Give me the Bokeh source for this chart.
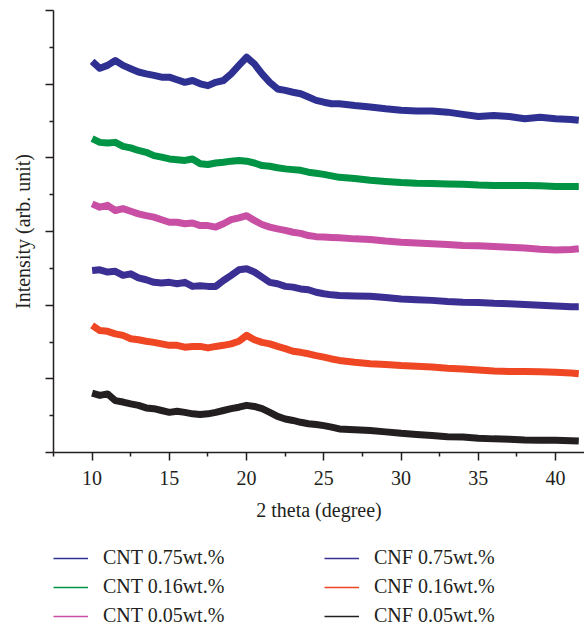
from bokeh.plotting import figure
from bokeh.layouts import column
from bokeh.models import Legend, LegendItem, FixedTicker, Range1d, ColumnDataSource
from bokeh.embed import file_html
from bokeh.resources import INLINE

# 2-theta positions (degree)
two_theta = [10, 10.5, 11, 11.5, 12, 12.5, 13, 13.5, 14, 14.5, 15, 15.5, 16, 16.5, 17, 17.5,
             18, 18.5, 19, 19.5, 20, 20.5, 21, 21.5, 22, 22.5, 23, 23.5, 24, 24.5, 25, 25.5,
             26, 27, 28, 29, 30, 31, 32, 33, 34, 35, 36, 37, 38, 39, 40, 41, 41.5]

# intensities (arb. unit, stacked offsets as in the figure)
cnt_075 = [10.62, 10.43, 10.51, 10.64, 10.51, 10.42, 10.33, 10.28, 10.24, 10.19, 10.19, 10.12,
           10.05, 10.10, 10.01, 9.96, 10.05, 10.10, 10.28, 10.51, 10.73, 10.55, 10.28, 10.05,
           9.87, 9.83, 9.78, 9.74, 9.65, 9.56, 9.51, 9.47, 9.47,
           9.42, 9.38, 9.33, 9.29, 9.27, 9.27, 9.24, 9.18, 9.12, 9.15, 9.12, 9.06, 9.10, 9.06,
           9.04, 9.02]
cnt_016 = [8.52, 8.42, 8.40, 8.42, 8.31, 8.27, 8.20, 8.15, 8.06, 8.02, 7.97, 7.95, 7.93, 7.97,
           7.84, 7.82, 7.86, 7.88, 7.91, 7.93, 7.91, 7.86, 7.79, 7.77, 7.73, 7.70, 7.68, 7.66,
           7.61, 7.58, 7.55, 7.51, 7.47,
           7.44, 7.39, 7.36, 7.33, 7.31, 7.30, 7.29, 7.28, 7.26, 7.25, 7.25, 7.25, 7.24, 7.22,
           7.22, 7.22]
cnt_005 = [6.75, 6.66, 6.71, 6.57, 6.62, 6.55, 6.48, 6.43, 6.39, 6.32, 6.25, 6.25, 6.21, 6.23,
           6.16, 6.16, 6.12, 6.21, 6.32, 6.37, 6.43, 6.30, 6.19, 6.12, 6.07, 6.03, 5.98, 5.95,
           5.89, 5.86, 5.85, 5.84, 5.83,
           5.80, 5.78, 5.74, 5.71, 5.69, 5.67, 5.65, 5.62, 5.61, 5.59, 5.57, 5.55, 5.52, 5.50,
           5.51, 5.53]
cnf_075 = [4.94, 4.96, 4.90, 4.92, 4.81, 4.85, 4.74, 4.69, 4.62, 4.60, 4.62, 4.58, 4.62, 4.51,
           4.53, 4.51, 4.51, 4.67, 4.81, 4.96, 4.99, 4.90, 4.76, 4.62, 4.58, 4.51, 4.49, 4.44,
           4.42, 4.35, 4.31, 4.28, 4.26,
           4.25, 4.24, 4.21, 4.17, 4.15, 4.13, 4.10, 4.08, 4.07, 4.05, 4.04, 4.02, 4.00, 3.98,
           3.96, 3.96]
cnf_016 = [3.45, 3.31, 3.29, 3.22, 3.18, 3.09, 3.06, 3.02, 2.99, 2.95, 2.91, 2.91, 2.86, 2.88,
           2.88, 2.84, 2.88, 2.91, 2.95, 3.02, 3.18, 3.06, 2.99, 2.95, 2.88, 2.82, 2.75, 2.72,
           2.68, 2.63, 2.59, 2.54, 2.50,
           2.45, 2.41, 2.39, 2.36, 2.34, 2.32, 2.29, 2.27, 2.24, 2.21, 2.20, 2.20, 2.19, 2.18,
           2.16, 2.14]
cnf_005 = [1.61, 1.55, 1.59, 1.41, 1.37, 1.32, 1.28, 1.21, 1.19, 1.14, 1.09, 1.12, 1.09, 1.05,
           1.03, 1.05, 1.09, 1.14, 1.19, 1.23, 1.28, 1.25, 1.19, 1.09, 0.98, 0.91, 0.87, 0.82,
           0.78, 0.76, 0.73, 0.69, 0.64,
           0.62, 0.60, 0.56, 0.52, 0.49, 0.46, 0.43, 0.42, 0.39, 0.37, 0.36, 0.34, 0.33, 0.33,
           0.32, 0.31]

series_names = ["cnt_075", "cnt_016", "cnt_005", "cnf_075", "cnf_016", "cnf_005"]
series_labels = ["CNT 0.75wt.%", "CNT 0.16wt.%", "CNT 0.05wt.%",
                 "CNF 0.75wt.%", "CNF 0.16wt.%", "CNF 0.05wt.%"]
series_colors = ["#2e3192", "#009444", "#c84fa4", "#3b2f93", "#ef4623", "#231f20"]

x_major = [10, 15, 20, 25, 30, 35, 40]
x_minor = [7.5, 12.5, 17.5, 22.5, 27.5, 32.5, 37.5]
y_major = [0, 2, 4, 6, 8, 10, 12]
y_minor = [1, 3, 5, 7, 9, 11]

src = ColumnDataSource(dict(x=two_theta, cnt_075=cnt_075, cnt_016=cnt_016, cnt_005=cnt_005,
                            cnf_075=cnf_075, cnf_016=cnf_016, cnf_005=cnf_005))

FONT = "Liberation Serif"
AX = "#231f20"

# ---- main plot ----
p = figure(width=584, height=528, output_backend="svg", toolbar_location=None,
           x_range=Range1d(7.5, 41.87), y_range=Range1d(0, 12),
           min_border_left=53, min_border_right=0, min_border_top=10, min_border_bottom=76)
p.outline_line_color = None
p.grid.visible = False

for name, color in zip(series_names, series_colors):
    p.line(x="x", y=name, source=src, line_color=color, line_width=7, line_join="round")

for ax in (p.xaxis[0], p.yaxis[0]):
    ax.axis_line_color = AX
    ax.axis_line_width = 1.5
    ax.major_tick_line_color = AX
    ax.minor_tick_line_color = AX
    ax.major_tick_line_width = 1.5
    ax.minor_tick_line_width = 1.5
    ax.major_tick_out = 8
    ax.major_tick_in = 0
    ax.minor_tick_out = 4
    ax.minor_tick_in = 0
    ax.axis_label_text_font = FONT
    ax.axis_label_text_font_size = "20px"
    ax.axis_label_text_font_style = "normal"
    ax.axis_label_text_color = AX
    ax.major_label_text_font = FONT
    ax.major_label_text_font_size = "20px"
    ax.major_label_text_color = AX

p.xaxis.ticker = FixedTicker(ticks=x_major, minor_ticks=x_minor)
p.yaxis.ticker = FixedTicker(ticks=y_major, minor_ticks=y_minor)
p.xaxis.axis_label = "2 theta (degree)"
p.yaxis.axis_label = "Intensity (arb. unit)"
p.xaxis.major_label_standoff = 10
p.xaxis.axis_label_standoff = 11
p.yaxis.major_label_overrides = {v: "" for v in y_major}
p.yaxis.major_label_text_font_size = "1px"
p.yaxis.major_label_standoff = 0
p.yaxis.axis_label_standoff = 12

# ---- legend panel (same series, kept out of its view; only the legend shows) ----
lg = figure(width=584, height=100, output_backend="svg", toolbar_location=None,
            x_range=Range1d(100, 101), y_range=Range1d(100, 101),
            x_axis_type=None, y_axis_type=None,
            min_border_left=0, min_border_right=0, min_border_top=0, min_border_bottom=0)
lg.outline_line_color = None
lg.grid.visible = False

items = []
for name, label, color in zip(series_names, series_labels, series_colors):
    r = lg.line(x="x", y=name, source=src, line_color=color, line_width=1.5)
    items.append(LegendItem(label=label, renderers=[r]))

for items_col, xoff in ((items[:3], 0), (items[3:], 271)):
    leg = Legend(items=items_col, location=(xoff, 1),
                 label_text_font=FONT, label_text_font_size="20px",
                 label_text_color=AX, glyph_width=35, glyph_height=20,
                 label_height=20, label_standoff=15, spacing=6,
                 padding=0, margin=0, border_line_color=None, background_fill_alpha=0)
    lg.add_layout(leg, "center")

layout = column(p, lg, spacing=0)
open("out.html", "w").write(file_html(layout, INLINE))
